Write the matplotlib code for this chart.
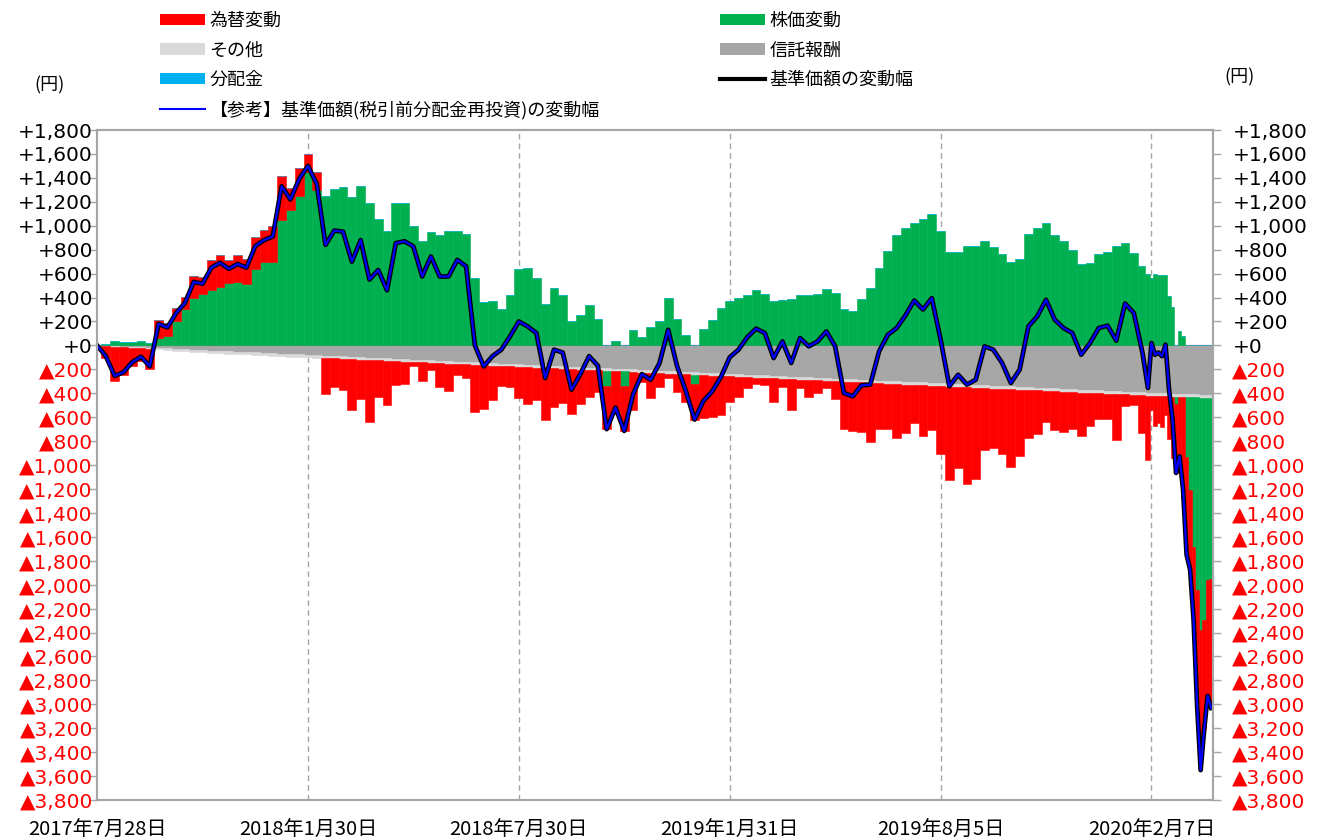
import numpy as np
import matplotlib
matplotlib.use("Agg")
import matplotlib.pyplot as plt
from matplotlib.patches import Patch
from matplotlib.lines import Line2D

# ---------------- data (business-day index from 2017-07-28) ----------------
day = [0, 5, 10, 15, 20, 25, 30, 35, 40, 45, 50, 55, 60, 65, 70, 75, 80, 85, 90, 95,
       100, 105, 110, 115, 120, 125, 130, 135, 140, 145, 150, 155, 160, 165, 170, 175, 180, 185, 190, 195,
       200, 205, 210, 215, 220, 225, 230, 235, 240, 245, 250, 255, 260, 265, 270, 275, 280, 285, 290, 295,
       300, 305, 310, 315, 320, 325, 330, 335, 340, 345, 350, 355, 360, 365, 370, 375, 380, 385, 390, 395,
       400, 405, 410, 415, 420, 425, 430, 435, 440, 445, 450, 455, 460, 465, 470, 475, 480, 485, 490, 495,
       500, 505, 510, 515, 520, 525, 530, 535, 540, 545, 550, 555, 560, 565, 570, 575, 580, 585, 590, 595,
       598, 600, 602, 604, 606, 608, 610, 612, 614, 616, 618, 620, 622, 624, 626, 628, 630, 632, 634]

# 基準価額の変動幅 (円)
nav_change = [0, -90, -255, -225, -140, -95, -175, 180, 150, 270, 355, 530, 515, 650, 690, 640, 680, 650, 830, 880,
              910, 1330, 1220, 1390, 1500, 1350, 840, 960, 950, 700, 880, 550, 630, 460, 855, 870, 827, 576, 743, 576,
              576, 715, 660, 0, -175, -90, -36, 75, 200, 159, 103, -273, -36, -60, -370, -240, -90, -170, -700, -520,
              -715, -410, -240, -287, -150, 130, -170, -380, -620, -465, -385, -265, -100, -36, 68, 140, 103, -106, 33, -147,
              61, -8, 33, 117, -8, -398, -426, -334, -328, -50, 89, 145, 250, 375, 300, 395, 50, -342, -245, -328,
              -287, -8, -36, -147, -314, -203, 159, 242, 381, 214, 145, 103, -78, 19, 145, 165, 40, 350, 270, -70,
              -356, 19, -78, -60, -90, 6, -370, -620, -1066, -927, -1205, -1750, -1873, -2300, -3014, -3550, -3209, -2930, -3030]

# 【参考】基準価額(税引前分配金再投資)の変動幅 — no distributions, identical values
nav_change_reinv = list(nav_change)

# 株価変動
stock = [0, 15, 40, 25, 30, 35, 20, 60, 80, 200, 300, 400, 430, 460, 490, 520, 530, 510, 640, 700,
         700, 1050, 1130, 1250, 1450, 1300, 1250, 1310, 1320, 1240, 1330, 1190, 1060, 960, 1190, 1190, 1000, 870, 950, 920,
         960, 960, 930, 560, 360, 370, 300, 420, 640, 650, 560, 350, 480, 420, 200, 250, 340, 220, -130, 40,
         -120, 130, 70, 150, 200, 400, 220, 90, -80, 140, 210, 315, 370, 395, 425, 465, 430, 370, 380, 390,
         420, 420, 430, 470, 440, 300, 290, 390, 480, 650, 790, 920, 985, 1025, 1060, 1100, 960, 780, 780, 830,
         830, 870, 820, 760, 700, 720, 930, 980, 1020, 920, 870, 800, 680, 690, 760, 780, 830, 854, 770, 660,
         600, 560, 600, 590, 590, 590, 410, 320, -60, 120, 80, -500, -775, -1250, -1610, -1944, -1860, -1526, -1512]

# 為替変動
fx = [0, -100, -285, -235, -151, -106, -166, 154, 108, 114, 103, 182, 142, 251, 265, 190, 223, 216, 269, 263,
      296, 369, 183, 236, 149, 153, -304, -241, -258, -424, -331, -518, -304, -371, -203, -184, -34, -152, -62, -195,
      -232, -90, -111, -398, -370, -291, -164, -170, -262, -309, -272, -435, -324, -285, -372, -288, -225, -182, -359, -345,
      -377, -317, -83, -207, -117, -33, -150, -227, -294, -355, -342, -324, -210, -168, -91, -55, -54, -200, -68, -254,
      -73, -139, -104, -57, -149, -395, -410, -415, -496, -384, -382, -451, -407, -319, -426, -367, -569, -778, -678, -807,
      -763, -521, -495, -543, -647, -552, -397, -361, -259, -322, -338, -307, -364, -274, -215, -211, -383, -94, -87, -313,
      -536, -120, -256, -226, -255, -158, -353, -512, -577, -617, -854, -818, -665, -616, -969, -1170, -912, -966, -1079]

# 信託報酬
fee = [0, -3, -7, -10, -13, -16, -20, -23, -26, -30, -33, -36, -40, -43, -46, -50, -53, -56, -59, -63,
       -66, -69, -73, -76, -79, -83, -86, -89, -92, -96, -99, -102, -106, -109, -112, -116, -119, -122, -125, -129,
       -132, -135, -139, -142, -145, -149, -152, -155, -158, -162, -165, -168, -172, -175, -178, -182, -185, -188, -191, -195,
       -198, -201, -205, -208, -211, -215, -218, -221, -224, -228, -231, -234, -238, -241, -244, -248, -251, -254, -257, -261,
       -264, -267, -271, -274, -277, -281, -284, -287, -290, -294, -297, -300, -304, -307, -310, -314, -317, -320, -323, -327,
       -330, -333, -337, -340, -343, -347, -350, -353, -356, -360, -363, -366, -370, -373, -376, -380, -383, -386, -389, -393,
       -395, -396, -397, -399, -400, -401, -402, -403, -404, -405, -406, -407, -408, -409, -410, -411, -412, -413, -414]

# その他
other = ([0, -2, -3, -5, -6, -8, -9, -11, -12, -14, -15, -16, -17, -18, -19]
         + [-20] * 46 + [-22] * 30 + [-24] * 29 + [-25] * 19)

# 分配金 (none paid in the period)
dist = [0] * len(day)

tick_pos = [0, 120, 240, 360, 480, 600]
tick_labels = ["2017年7月28日", "2018年1月30日", "2018年7月30日",
               "2019年1月31日", "2019年8月5日", "2020年2月7日"]

legend_left = ["為替変動", "その他", "分配金", "【参考】基準価額(税引前分配金再投資)の変動幅"]
legend_right = ["株価変動", "信託報酬", "基準価額の変動幅"]

C_FX, C_STOCK, C_OTHER, C_FEE, C_DIST = "#FF0000", "#00B050", "#D9D9D9", "#A6A6A6", "#00B0F0"

# ---------------- figure ----------------
JP = ["Noto Sans CJK JP", "DejaVu Sans"]
plt.rcParams["font.family"] = JP

fig = plt.figure(figsize=(13.17, 8.40), dpi=100)
ax = fig.add_axes([0.0737, 0.0476, 0.8473, 0.7976])

x = np.array(day, dtype=float)
mid = (x[1:] + x[:-1]) / 2
edges = np.concatenate([[x[0] - 2.5], mid, [x[-1] + 1.0]])
left = edges[:-1]
width = np.diff(edges)

pos = np.zeros(len(x))
neg = np.zeros(len(x))
for vals, col in [(fee, C_FEE), (other, C_OTHER), (stock, C_STOCK), (fx, C_FX), (dist, C_DIST)]:
    v = np.array(vals, dtype=float)
    base = np.where(v >= 0, pos, neg)
    ax.bar(left, v, width=width, bottom=base, align="edge", color=col,
           edgecolor=col, linewidth=0.4, zorder=2)
    pos += np.clip(v, 0, None)
    neg += np.clip(v, None, 0)

ax.plot(x, nav_change, color="black", lw=3.4, zorder=5, solid_joinstyle="round")
ax.plot(x, nav_change_reinv, color="#0000FF", lw=1.6, zorder=6, solid_joinstyle="round")

ax.set_xlim(0, 635)
ax.set_ylim(-3800, 1800)

# vertical dashed grid
for t in tick_pos[1:]:
    ax.axvline(t, color="#A6A6A6", lw=1.0, ls=(0, (4, 3)), zorder=1)

# x tick labels at bottom
ax.set_xticks(tick_pos)
ax.set_xticklabels(tick_labels, fontsize=14.5, family=JP)
ax.tick_params(axis="x", length=0, pad=14)

# zero axis with tick marks
sec = ax.secondary_xaxis(3800 / 5600)
sec.set_xticks(tick_pos)
sec.set_xticklabels([])
sec.tick_params(axis="x", direction="inout", length=9, width=1.2, color="black")
sec.spines["bottom"].set_color("black")
sec.spines["bottom"].set_linewidth(1.2)
sec.spines["bottom"].set_zorder(7)

# y ticks
yt = np.arange(-3800, 1801, 200)


def fmt(v):
    v = int(round(v))
    if v > 0:
        return "+{:,}".format(v)
    if v == 0:
        return "+0"
    return "▲{:,}".format(-v)


ylabels = [fmt(v) for v in yt]
ax.set_yticks(yt)
ax.set_yticklabels(ylabels, fontsize=14.5, family=["DejaVu Sans"])
ax.tick_params(axis="y", direction="out", length=6, width=1, color="#A6A6A6", pad=-3)
for lab, v in zip(ax.get_yticklabels(), yt):
    lab.set_color("#FF0000" if v < 0 else "black")

ax2 = ax.twinx()
ax2.set_ylim(-3800, 1800)
ax2.set_yticks(yt)
ax2.set_yticklabels(ylabels, fontsize=14.5, family=["DejaVu Sans"])
ax2.tick_params(axis="y", direction="out", length=6, width=1, color="#A6A6A6", pad=8)
for lab, v in zip(ax2.get_yticklabels(), yt):
    lab.set_color("#FF0000" if v < 0 else "black")

for a in (ax, ax2):
    for s in a.spines.values():
        s.set_color("#A6A6A6")
        s.set_linewidth(1.5)

fig.text(50 / 1317, 1 - 85 / 840, "(円)", fontsize=13, ha="center", va="center", family=JP)
fig.text(1240 / 1317, 1 - 77 / 840, "(円)", fontsize=13, ha="center", va="center", family=JP)

# legends
h_left = [Patch(facecolor=C_FX), Patch(facecolor=C_OTHER), Patch(facecolor=C_DIST),
          Line2D([], [], color="#0000FF", lw=1.5)]
h_right = [Patch(facecolor=C_STOCK), Patch(facecolor=C_FEE), Line2D([], [], color="black", lw=3)]
common = dict(frameon=False, handlelength=2.5, handleheight=0.6, handletextpad=0.25,
              labelspacing=0.64, borderpad=0, borderaxespad=0, loc="upper left",
              prop={"family": JP, "size": 13})
fig.legend(h_left, legend_left, bbox_to_anchor=(160 / 1317, 1 - 12 / 840), **common)
fig.legend(h_right, legend_right, bbox_to_anchor=(720 / 1317, 1 - 12 / 840), **common)

fig.savefig("out.png", dpi=100)
